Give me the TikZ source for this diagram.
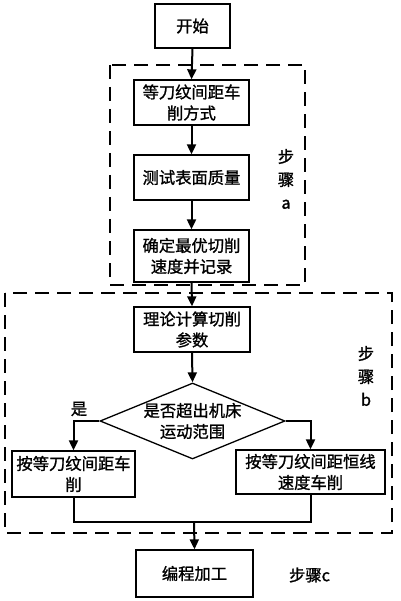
\documentclass[tikz,border=0pt]{standalone}
\usepackage{fontspec}
\newfontfamily\cjk[FakeBold=1.2]{Noto Sans CJK SC}
\usetikzlibrary{arrows.meta,shapes.geometric}
\begin{document}
\begin{tikzpicture}[x=1pt,y=-1pt,
  box/.style={draw,line width=1.3pt,inner sep=0pt,align=center,font=\cjk\fontsize{16.3}{21}\selectfont},
  dia/.style={draw,diamond,line width=1.3pt,inner sep=0pt,minimum width=185pt,minimum height=76pt},
  txt/.style={inner sep=0pt,align=center,font=\cjk\fontsize{16.3}{21}\selectfont},
  steplabel/.style={inner sep=0pt,align=center,font=\cjk\fontsize{16.3}{23}\selectfont},
  grp/.style={draw,line width=2.4pt,dash pattern=on 14pt off 8pt},
  conn/.style={line width=2pt},
  arr/.style={line width=2pt,-{Triangle[length=10pt,width=9pt]}}]
\useasboundingbox (0,0) rectangle (400,601);
\fill[white] (0,0) rectangle (400,601);
% group frames
\draw[grp] (110,65) rectangle (305,285);
\draw[grp] (5,293) rectangle (392,533);
% nodes
\node[box,minimum width=75pt,minimum height=44pt] (s) at (192.5,26) {开始};
\node[box,minimum width=115pt,minimum height=45pt] (b1) at (191.5,102.5) {等刀纹间距车\\削方式};
\node[box,minimum width=115pt,minimum height=45pt] (b2) at (191.5,177.5) {测试表面质量};
\node[box,minimum width=115pt,minimum height=52pt] (b3) at (191.5,256) {确定最优切削\\速度并记录};
\node[box,minimum width=116pt,minimum height=45pt] (b4) at (192,329.5) {理论计算切削\\参数};
\node[dia] (d) at (192.5,421) {};
\node[txt] (dt) at (d.center) {是否超出机床\\运动范围};
\node[box,minimum width=123pt,minimum height=46pt] (b5) at (73.5,474) {按等刀纹间距车\\削};
\node[box,minimum width=149pt,minimum height=44pt] (b6) at (310.5,472) {按等刀纹间距恒线\\速度车削};
\node[box,minimum width=117pt,minimum height=47pt] (b7) at (194.5,573.5) {编程加工};
\node[txt] (yes) at (79,409) {是};
\node[steplabel] (la) at (286,179) {步\\骤\\a};
\node[steplabel] (lb) at (366,376) {步\\骤\\b};
\node[steplabel] (lc) at (309.5,575) {步骤c};
\coordinate (m) at (194,522);
% connectors
\draw[arr] (s.south) -- (b1.north);
\draw[arr] (b1.south) -- (b2.north);
\draw[arr] (b2.south) -- (b3.north);
\draw[arr] (b3.south) -- (b4.north);
\draw[arr] (b4.south) -- (d.north);
\draw[arr] (d.west) -| (b5.north);
\draw[arr] (d.east) -| (b6.north);
\draw[conn] (b5.south) |- (m) -| (b6.south);
\draw[arr] (m) -- (b7.north);
\end{tikzpicture}
\end{document}
